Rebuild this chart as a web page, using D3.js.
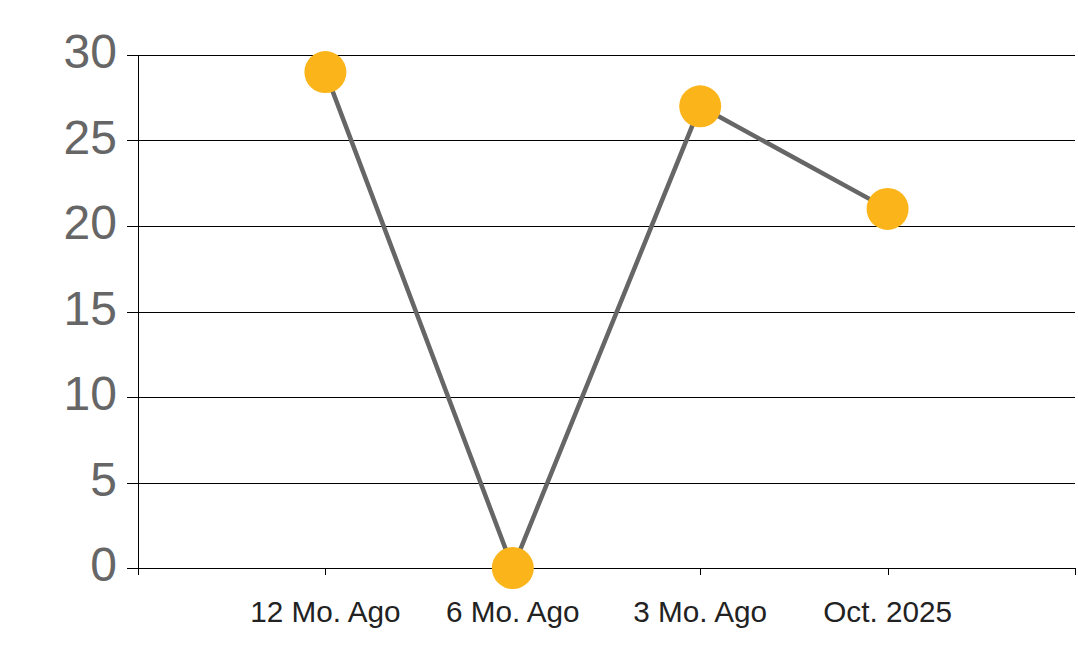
<!DOCTYPE html>
<html>
<head>
<meta charset="utf-8">
<script src="https://cdn.jsdelivr.net/npm/d3@7"></script>
<style>
  body { margin: 0; background: #fff; }
  svg { display: block; }
  .grid line { stroke: #000; stroke-width: 1.2; shape-rendering: crispEdges; }
  .tick_y text { font-family: "Liberation Sans", Arial, sans-serif; font-size: 48px; fill: #666; }
  .tick_x text { font-family: "Liberation Sans", Arial, sans-serif; font-size: 29.7px; fill: #222; }
</style>
</head>
<body>
<svg id="chart" width="1078" height="663"></svg>
<script>
let categories = ["12 Mo. Ago", "6 Mo. Ago", "3 Mo. Ago", "Oct. 2025"];
let values = [29, 0, 27, 21];
let y_ticks = [0, 5, 10, 15, 20, 25, 30];

let svg = d3.select("#chart");

let plot_left = 138, plot_right = 1075, plot_top = 55, plot_bottom = 568;

let xScale = d3.scalePoint()
    .domain(categories)
    .range([plot_left, plot_right])
    .padding(1);

let yScale = d3.scaleLinear()
    .domain([0, 30])
    .range([plot_bottom, plot_top]);

// horizontal gridlines with the little tick stubs on the left
svg.append("g")
    .attr("class", "grid")
    .selectAll("line")
    .data(y_ticks)
    .enter()
    .append("line")
    .attr("x1", plot_left - 11)
    .attr("x2", plot_right)
    .attr("y1", d => Math.round(yScale(d)) + 0.5)
    .attr("y2", d => Math.round(yScale(d)) + 0.5);

// y axis line
svg.append("g")
    .attr("class", "grid")
    .append("line")
    .attr("x1", plot_left + 0.5)
    .attr("x2", plot_left + 0.5)
    .attr("y1", plot_top)
    .attr("y2", plot_bottom + 7);

// x ticks: category positions plus both edges
let x_tick_pos = [plot_left].concat(categories.map(c => xScale(c)), [plot_right]);
svg.append("g")
    .attr("class", "grid")
    .selectAll("line")
    .data(x_tick_pos)
    .enter()
    .append("line")
    .attr("x1", d => Math.round(d) + 0.5)
    .attr("x2", d => Math.round(d) + 0.5)
    .attr("y1", plot_bottom)
    .attr("y2", plot_bottom + 7);

svg.append("g")
    .attr("class", "tick_y")
    .selectAll("text")
    .data(y_ticks)
    .enter()
    .append("text")
    .attr("x", plot_left - 21)
    .attr("y", d => yScale(d) + 13)
    .attr("text-anchor", "end")
    .text(d => d);

svg.append("g")
    .attr("class", "tick_x")
    .selectAll("text")
    .data(categories)
    .enter()
    .append("text")
    .attr("x", d => xScale(d))
    .attr("y", plot_bottom + 54)
    .attr("text-anchor", "middle")
    .text(d => d);

let line = d3.line()
    .x((d, i) => xScale(categories[i]))
    .y(d => yScale(d));

svg.append("path")
    .attr("d", line(values))
    .attr("fill", "none")
    .attr("stroke", "#666")
    .attr("stroke-width", 4.5);

svg.append("g")
    .selectAll("circle")
    .data(values)
    .enter()
    .append("circle")
    .attr("cx", (d, i) => xScale(categories[i]))
    .attr("cy", d => yScale(d))
    .attr("r", 21)
    .attr("fill", "#fbb51b");
</script>
</body>
</html>
